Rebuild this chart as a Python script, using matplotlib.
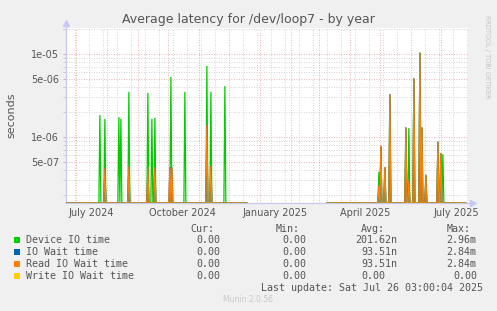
import numpy as np
import pandas as pd
import matplotlib
matplotlib.use('Agg')
import matplotlib.pyplot as plt
import matplotlib.dates as mdates
from matplotlib.patches import Rectangle
from matplotlib.ticker import FixedLocator, FixedFormatter, NullFormatter
from matplotlib.transforms import blended_transform_factory

# ---------------- data ----------------
title = "Average latency for /dev/loop7 - by year"
ylabel = "seconds"

day_first = "2024-06-22"
day_last = "2025-07-26"
gap_first = "2024-12-20"
gap_last = "2025-03-08"

device_dates = ["2024-07-25", "2024-07-30", "2024-08-13", "2024-08-15", "2024-08-23",
                "2024-09-11", "2024-09-15", "2024-09-18", "2024-10-04", "2024-10-18",
                "2024-11-09", "2024-11-13", "2024-11-27",
                "2025-04-30", "2025-05-02", "2025-05-06", "2025-05-11", "2025-05-27",
                "2025-05-30", "2025-06-04", "2025-06-10", "2025-06-12", "2025-06-16",
                "2025-06-28", "2025-07-01", "2025-07-03"]
device_vals = [1.84e-6, 1.65e-6, 1.74e-6, 1.65e-6, 3.5e-6,
               3.4e-6, 1.65e-6, 1.7e-6, 5.3e-6, 3.5e-6,
               7.2e-6, 3.5e-6, 4.1e-6,
               3.8e-7, 7.6e-7, 4.2e-7, 3.2e-6, 1.25e-6,
               1.28e-6, 5.0e-6, 1.05e-5, 1.28e-6, 3.4e-7,
               8.6e-7, 6.2e-7, 6.2e-7]

read_dates = ["2024-07-30", "2024-08-23", "2024-09-11", "2024-09-18", "2024-10-03",
              "2024-10-05", "2024-11-09", "2024-11-13",
              "2025-04-30", "2025-05-02", "2025-05-06", "2025-05-11", "2025-05-27",
              "2025-05-30", "2025-06-04", "2025-06-10", "2025-06-12", "2025-06-16",
              "2025-06-28", "2025-07-01"]
read_vals = [4.2e-7, 4.4e-7, 4.3e-7, 4.3e-7, 4.3e-7,
             4.3e-7, 1.4e-6, 4.5e-7,
             2.6e-7, 7.8e-7, 4.35e-7, 3.3e-6, 1.31e-6,
             3.0e-7, 5.1e-6, 1.02e-5, 1.31e-6, 3.5e-7,
             8.8e-7, 6.4e-7]

x_label_dates = ["2024-07-16", "2024-10-16", "2025-01-16", "2025-04-16", "2025-07-16"]
x_labels = ["July 2024", "October 2024", "January 2025", "April 2025", "July 2025"]

y_major = [5e-7, 1e-6, 5e-6, 1e-5]
y_major_labels = ["5e-07", "1e-06", "5e-06", "1e-05"]
y_minor = [2e-7, 3e-7, 4e-7, 6e-7, 7e-7, 8e-7, 9e-7,
           2e-6, 3e-6, 4e-6, 6e-6, 7e-6, 8e-6, 9e-6, 2e-5]

legend_labels = ["Device IO time", "IO Wait time", "Read IO Wait time", "Write IO Wait time"]
legend_colors = ["#00cc00", "#0066b3", "#ff8000", "#ffcc00"]
cur_vals = ["0.00", "0.00", "0.00", "0.00"]
min_vals = ["0.00", "0.00", "0.00", "0.00"]
avg_vals = ["201.62n", "93.51n", "93.51n", "0.00"]
max_vals = ["2.96m", "2.84m", "2.84m", "0.00"]
headers = ["Cur:", "Min:", "Avg:", "Max:"]
last_update = "Last update: Sat Jul 26 03:00:04 2025"
footer = "Munin 2.0.56"
side_text = "RRDTOOL / TOBI OETIKER"

# ---------------- build daily series ----------------
days = pd.date_range(day_first, day_last, freq="D")
gap = (days >= pd.Timestamp(gap_first)) & (days <= pd.Timestamp(gap_last))


def series(dates, vals):
    s = pd.Series(0.0, index=days)
    for d, v in zip(dates, vals):
        s[pd.Timestamp(d)] = v
    s[gap] = np.nan
    return s


device = series(device_dates, device_vals)
read = series(read_dates, read_vals)
iowait = read.copy()
write = series([], [])

# ---------------- figure ----------------
W, H = 497, 311
fig = plt.figure(figsize=(W / 100, H / 100), dpi=100, facecolor="#f0f0f0")
L, R, T, B = 66, 468, 28, 203
ax = fig.add_axes([L / W, 1 - B / H, (R - L) / W, (B - T) / H])
ax.set_facecolor("white")

ybot, ytop = 1.6e-7, 2.06e-5
start = pd.Timestamp("2024-06-21 03:00")
end = start + pd.Timedelta(days=R - L)
ax.set_yscale("log")
ax.set_ylim(ybot, ytop)
ax.set_xlim(mdates.date2num(start), mdates.date2num(end))

xs = mdates.date2num(days)
for s, c in [(device, legend_colors[0]), (iowait, legend_colors[1]),
             (read, legend_colors[2]), (write, legend_colors[3])]:
    y = np.maximum(s.values, ybot)
    ax.plot(xs, y, color=c, lw=0.9, zorder=3, clip_on=True, solid_joinstyle="miter")

# grids
major_c = "#e09a9a"
minor_c = "#c6c6c6"
ax.xaxis.set_major_locator(mdates.MonthLocator(bymonthday=1))
ax.xaxis.set_minor_locator(FixedLocator(mdates.date2num(
    pd.date_range("2024-06-30", "2025-08-01", freq="14D"))))
ax.xaxis.set_major_formatter(NullFormatter())
ax.xaxis.set_minor_formatter(NullFormatter())
ax.yaxis.set_major_locator(FixedLocator(y_major))
ax.yaxis.set_major_formatter(FixedFormatter(y_major_labels))
ax.yaxis.set_minor_locator(FixedLocator(y_minor))
ax.yaxis.set_minor_formatter(NullFormatter())

ax.grid(True, which="minor", color=minor_c, lw=0.6, ls=(0, (1, 2)), zorder=1)
ax.grid(True, which="major", color=major_c, lw=0.6, ls=(0, (1, 2)), zorder=1.5)
ax.set_axisbelow(True)

ax.tick_params(axis="x", which="both", length=0)
ax.tick_params(axis="y", which="major", length=2, color=major_c, width=0.6,
               labelsize=7, labelcolor="#555555", pad=3)
ax.tick_params(axis="y", which="minor", length=2, color=minor_c, width=0.6)

for sp in ax.spines.values():
    sp.set_visible(False)

axis_c = "#c8c8f4"
ax.plot([0, 0], [0, 1.025], transform=ax.transAxes, color=axis_c, lw=0.9,
        clip_on=False, zorder=2)
ax.plot([0, 1.01], [0, 0], transform=ax.transAxes, color=axis_c, lw=0.9,
        clip_on=False, zorder=2)
ax.plot([0], [1.03], transform=ax.transAxes, marker="^", ms=4, color=axis_c,
        clip_on=False, zorder=2)
ax.plot([1.012], [0], transform=ax.transAxes, marker=">", ms=4, color=axis_c,
        clip_on=False, zorder=2)

# x labels centred mid-month
tr = blended_transform_factory(ax.transData, ax.transAxes)
for d, lab in zip(x_label_dates, x_labels):
    ax.text(mdates.date2num(pd.Timestamp(d)), -(216 - B) / (B - T), lab,
            transform=tr, ha="center", va="baseline", fontsize=7, color="#555555")

# titles
fig.text(248.5 / W, 1 - 23 / H, title, ha="center", va="baseline",
         fontsize=9, color="#555555")
fig.text(11 / W, 1 - 115 / H, ylabel, rotation=90, ha="center", va="center",
         fontsize=8, color="#555555")
fig.text(486.5 / W, 1 - 57 / H, side_text, rotation=270, ha="center", va="center",
         fontsize=4.7, color="#c4c4c4")

# legend
mono = "DejaVu Sans Mono"
fs = 7.2
tc = "#555555"


def fy(py):
    return 1 - py / H


header_x = [190, 276, 361, 447]
for hx, h in zip(header_x, headers):
    fig.text(hx / W, fy(231.5), h, family=mono, fontsize=fs, color=tc, va="baseline")

row_y = [239.7, 251.7, 263.7, 275.7]
cur_x = [196, 196, 196, 196]
min_x = [282, 282, 282, 282]
avg_x = [355, 361.5, 361.5, 361.5]
max_x = [446.7, 446.7, 446.7, 453.3]
for i, lab in enumerate(legend_labels):
    y = row_y[i]
    fig.add_artist(Rectangle((14 / W, fy(y + 3)), 6 / W, 6 / H,
                             transform=fig.transFigure, facecolor=legend_colors[i],
                             edgecolor="none"))
    fig.text(26.3 / W, fy(y + 3.6), lab, family=mono, fontsize=fs, color=tc, va="baseline")
    fig.text(cur_x[i] / W, fy(y + 3.6), cur_vals[i], family=mono, fontsize=fs, color=tc, va="baseline")
    fig.text(min_x[i] / W, fy(y + 3.6), min_vals[i], family=mono, fontsize=fs, color=tc, va="baseline")
    fig.text(avg_x[i] / W, fy(y + 3.6), avg_vals[i], family=mono, fontsize=fs, color=tc, va="baseline")
    fig.text(max_x[i] / W, fy(y + 3.6), max_vals[i], family=mono, fontsize=fs, color=tc, va="baseline")

fig.text(483 / W, fy(291), last_update, family=mono, fontsize=fs, color=tc,
         ha="right", va="baseline")
fig.text(248 / W, fy(302.5), footer, fontsize=5.5, color="#c8c8c8",
         ha="center", va="baseline")

fig.savefig("out.png", dpi=100, facecolor=fig.get_facecolor())
